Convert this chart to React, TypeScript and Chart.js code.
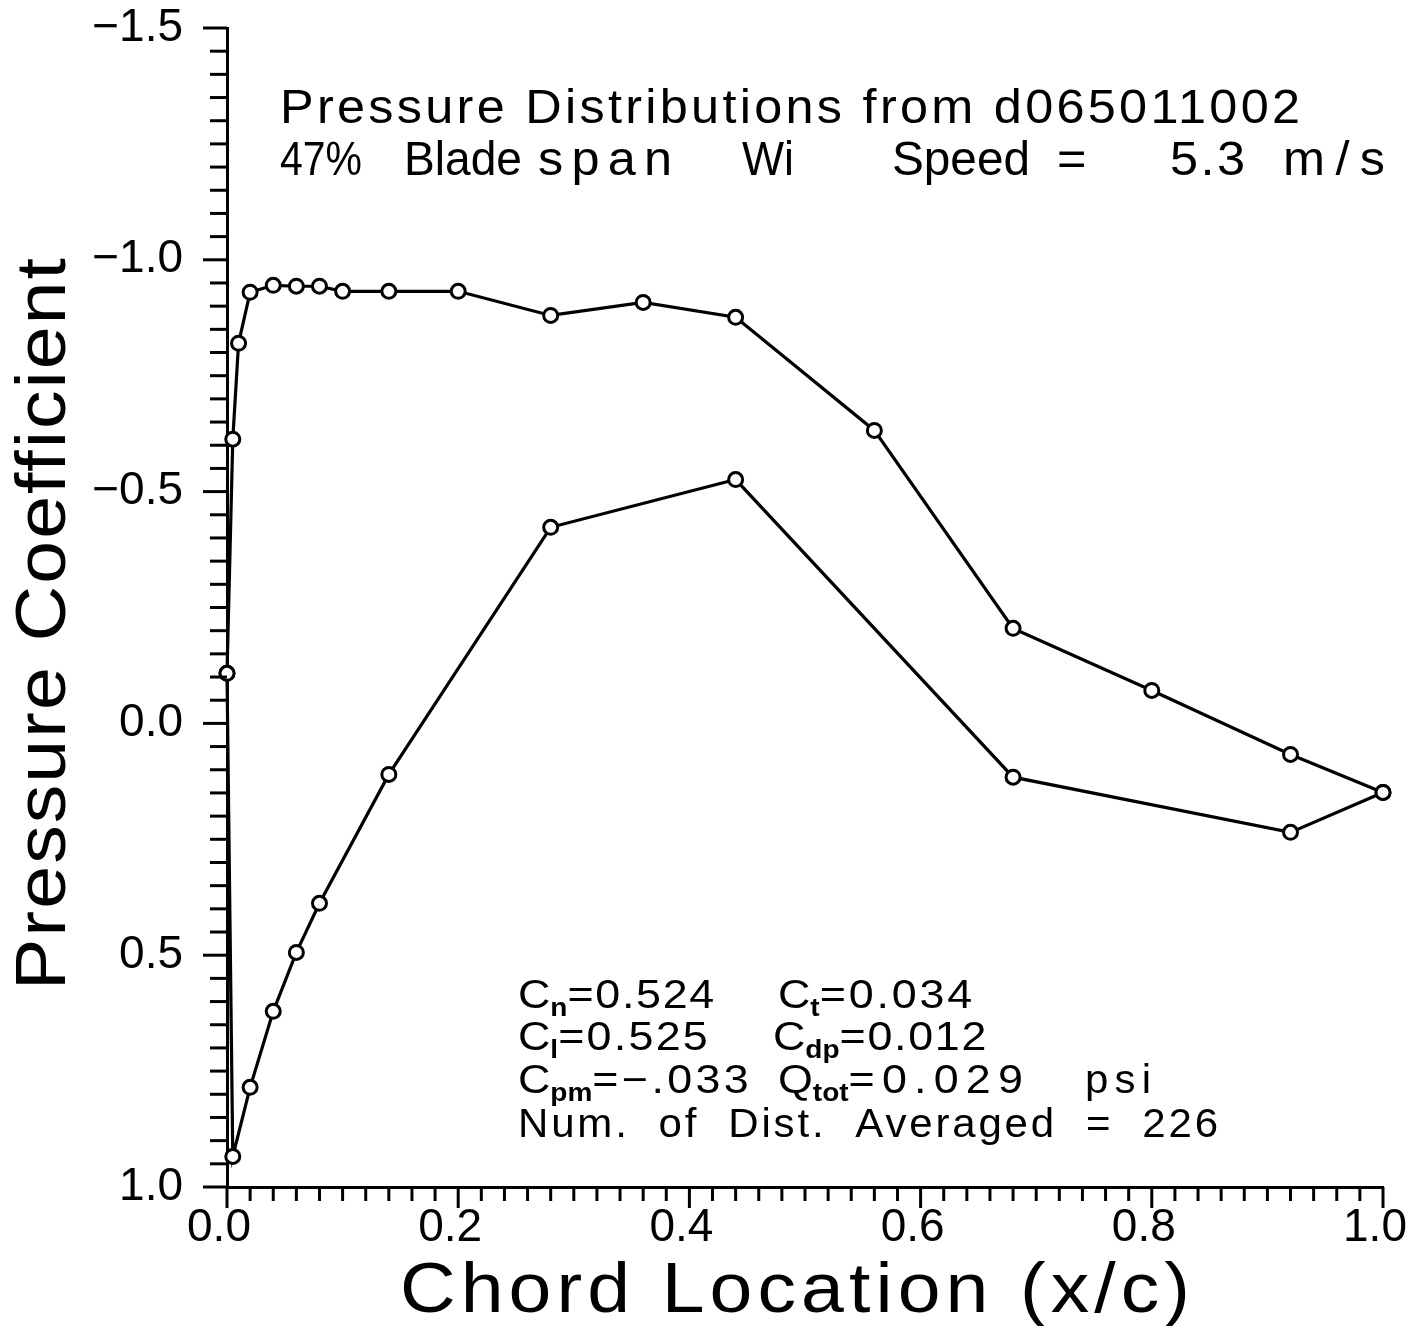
import React, { useEffect, useRef } from 'react';
import { Chart, registerables } from 'chart.js';

Chart.register(...registerables);

// ---- data ----
const upperX = [0, 0.005, 0.01, 0.02, 0.04, 0.06, 0.08, 0.1, 0.14, 0.2, 0.28, 0.36, 0.44, 0.56, 0.68, 0.8, 0.92, 1.0];
const upperCp = [-0.108, -0.613, -0.82, -0.93, -0.945, -0.943, -0.943, -0.932, -0.932, -0.932, -0.88, -0.908, -0.876, -0.632, -0.205, -0.071, 0.067, 0.149];
const lowerX = [0, 0.005, 0.02, 0.04, 0.06, 0.08, 0.14, 0.28, 0.44, 0.68, 0.92, 1.0];
const lowerCp = [-0.108, 0.934, 0.785, 0.621, 0.494, 0.388, 0.11, -0.423, -0.526, 0.116, 0.235, 0.149];

const xTickValues = [0, 0.2, 0.4, 0.6, 0.8, 1.0];
const yTickValues = [-1.5, -1.0, -0.5, 0.0, 0.5, 1.0];
const X_MIN = 0, X_MAX = 1.0, X_MINOR = 0.02;
const Y_MIN = -1.5, Y_MAX = 1.0, Y_MINOR = 0.05;

const titleLine1 = 'Pressure Distributions from d065011002';
const titleLine2Words = ['47%', 'Blade', 'span', 'Wi', 'Speed', '=', '5.3', 'm/s'];
const xTitle = 'Chord Location (x/c)';
const yTitle = 'Pressure Coefficient';
const statLines = [
  [[{ t: 'C' }, { t: 'n', sub: true }, { t: '=0.524' }], [{ t: 'C' }, { t: 't', sub: true }, { t: '=0.034' }]],
  [[{ t: 'C' }, { t: 'l', sub: true }, { t: '=0.525' }], [{ t: 'C' }, { t: 'dp', sub: true }, { t: '=0.012' }]],
  [[{ t: 'C' }, { t: 'pm', sub: true }, { t: '=\u2212.033' }], [{ t: 'Q' }, { t: 'tot', sub: true }, { t: '=0.029' }]],
];
const statPsi = 'psi';
const statLast = 'Num.  of  Dist.  Averaged  =  226';

const FONT = '"Liberation Sans", Arial, Helvetica, sans-serif';

const fmt = (v: number) => (v < 0 ? '\u2212' + Math.abs(v).toFixed(1) : v.toFixed(1));

// draws text so that it spans `width` px: stretch glyphs up to maxStretch, then add letter spacing
function fitText(ctx: CanvasRenderingContext2D, text: string, x: number, y: number, size: number, width: number, maxStretch = 1.05) {
  ctx.font = `normal ${size}px ${FONT}`;
  (ctx as any).letterSpacing = '0px';
  const nat = ctx.measureText(text).width;
  const n = [...text].length;
  let sx = width / nat;
  let ls = 0;
  if (sx > maxStretch) {
    sx = maxStretch;
    ls = n > 1 ? (width / sx - nat) / (n - 1) : 0;
  }
  ctx.save();
  ctx.translate(x, y);
  ctx.scale(sx, 1);
  (ctx as any).letterSpacing = ls + 'px';
  ctx.fillText(text, 0, 0);
  ctx.restore();
  (ctx as any).letterSpacing = '0px';
}

type Seg = { t: string; sub?: boolean };
function richText(ctx: CanvasRenderingContext2D, segs: Seg[], x: number, y: number, size: number, width: number, maxStretch = 1.12) {
  const subSize = Math.round(size * 0.62);
  const setFont = (s: Seg) => {
    ctx.font = s.sub ? `bold ${subSize}px ${FONT}` : `normal ${size}px ${FONT}`;
  };
  (ctx as any).letterSpacing = '0px';
  let nat = 0, n = 0;
  const widths: number[] = [];
  for (const s of segs) {
    setFont(s);
    const w = ctx.measureText(s.t).width;
    widths.push(w);
    nat += w;
    n += s.sub ? 0 : [...s.t].length;
  }
  let sx = width / nat;
  let ls = 0;
  if (sx > maxStretch) {
    sx = maxStretch;
    ls = n > 1 ? (width / sx - nat) / (n - 1) : 0;
  }
  ctx.save();
  ctx.translate(x, y);
  ctx.scale(sx, 1);
  let cx = 0;
  segs.forEach((s, i) => {
    setFont(s);
    const spacing = s.sub ? 0 : ls;
    (ctx as any).letterSpacing = spacing + 'px';
    ctx.fillText(s.t, cx, s.sub ? size * 0.2 : 0);
    let adv = widths[i] + [...s.t].length * spacing;
    if (!s.sub && i + 1 < segs.length && segs[i + 1].sub) adv -= spacing;
    cx += adv;
  });
  ctx.restore();
  (ctx as any).letterSpacing = '0px';
}

const decorPlugin = {
  id: 'decor',
  afterDraw(chart: any) {
    const { ctx, chartArea, scales } = chart;
    const xs = scales.x, ys = scales.y;
    ctx.save();
    // tick marks
    ctx.strokeStyle = '#000';
    ctx.lineWidth = 3;
    const nX = Math.round((X_MAX - X_MIN) / X_MINOR);
    for (let i = 0; i <= nX; i++) {
      const px = xs.getPixelForValue(X_MIN + i * X_MINOR);
      const major = i % 10 === 0;
      ctx.beginPath();
      ctx.moveTo(px, chartArea.bottom);
      ctx.lineTo(px, chartArea.bottom + (major ? 21 : 14));
      ctx.stroke();
    }
    const nY = Math.round((Y_MAX - Y_MIN) / Y_MINOR);
    for (let i = 0; i <= nY; i++) {
      const py = ys.getPixelForValue(Y_MIN + i * Y_MINOR);
      const major = i % 10 === 0;
      ctx.beginPath();
      ctx.moveTo(chartArea.left, py);
      ctx.lineTo(chartArea.left - (major ? 24 : 17), py);
      ctx.stroke();
    }
    // texts
    ctx.fillStyle = '#000';
    ctx.textAlign = 'left';
    ctx.textBaseline = 'alphabetic';
    fitText(ctx, titleLine1, 280, 123, 48, 1020);
    const w2 = [[280, 82], [404, 118], [538, 134], [742, 52], [892, 138], [1057, 38], [1170, 75], [1283, 102]];
    titleLine2Words.forEach((w, i) => fitText(ctx, w, w2[i][0], 175, 48, w2[i][1]));

    const rowY = [1008, 1050, 1093];
    const colA = [198, 192, 234];
    const colBx = [778, 773, 778];
    const colBw = [197, 215, 252];
    statLines.forEach((row, r) => {
      richText(ctx, row[0], 518, rowY[r], 40, colA[r]);
      richText(ctx, row[1], colBx[r], rowY[r], 40, colBw[r]);
    });
    fitText(ctx, statPsi, 1085, 1093, 40, 66);
    fitText(ctx, statLast, 518, 1137, 40, 700);

    // axis titles
    fitText(ctx, xTitle, 400, 1312, 70, 790, 1.1);
    ctx.save();
    ctx.translate(65, 990);
    ctx.rotate(-Math.PI / 2);
    fitText(ctx, yTitle, 0, 0, 70, 732, 1.1);
    ctx.restore();
    ctx.restore();
  },
};

const zeroPad = (s: any) => {
  s.paddingLeft = 0;
  s.paddingRight = 0;
  s.paddingTop = 0;
  s.paddingBottom = 0;
};

export default function App() {
  const ref = useRef<HTMLCanvasElement | null>(null);
  useEffect(() => {
    if (!ref.current) return;
    const mk = (xs: number[], ys: number[]) => xs.map((x, i) => ({ x, y: ys[i] }));
    const ds = (data: any[]) => ({
      data,
      borderColor: '#000',
      borderWidth: 3.2,
      pointRadius: 7,
      pointBorderWidth: 3,
      pointBackgroundColor: '#fff',
      pointBorderColor: '#000',
      tension: 0,
      fill: false,
      clip: false as any,
    });
    const chart = new Chart(ref.current, {
      type: 'line',
      data: {
        datasets: [ds(mk(upperX, upperCp)), ds(mk(lowerX, lowerCp))],
      },
      options: {
        animation: false,
        responsive: false,
        devicePixelRatio: 1,
        layout: { padding: { left: 0, right: 31, top: 28, bottom: 0 } },
        plugins: { legend: { display: false }, tooltip: { enabled: false }, title: { display: false } },
        scales: {
          x: {
            type: 'linear',
            min: X_MIN,
            max: X_MAX,
            position: 'bottom',
            afterFit: (s: any) => { s.height = 139; zeroPad(s); },
            afterBuildTicks: (s: any) => { s.ticks = xTickValues.map((v) => ({ value: v })); },
            grid: { display: false, drawTicks: false },
            border: { display: true, color: '#000', width: 3 },
            ticks: {
              color: '#000',
              font: { family: FONT, size: 46, lineHeight: 1 },
              padding: 18,
              labelOffset: -8,
              maxRotation: 0,
              autoSkip: false,
              callback: (v: any) => fmt(Number(v)),
            },
          },
          y: {
            type: 'linear',
            min: Y_MIN,
            max: Y_MAX,
            reverse: true,
            afterFit: (s: any) => { s.width = 227; zeroPad(s); },
            afterBuildTicks: (s: any) => { s.ticks = yTickValues.map((v) => ({ value: v })); },
            grid: { display: false, drawTicks: false },
            border: { display: true, color: '#000', width: 3 },
            ticks: {
              color: '#000',
              font: { family: FONT, size: 46, lineHeight: 1 },
              padding: 44,
              autoSkip: false,
              callback: (v: any) => fmt(Number(v)),
            },
          },
        },
      },
      plugins: [decorPlugin],
    });
    return () => chart.destroy();
  }, []);
  return (
    <div style={{ position: 'absolute', left: 0, top: 0, width: 1414, height: 1326, background: '#fff' }}>
      <canvas ref={ref} width={1414} height={1326} style={{ display: 'block', width: 1414, height: 1326 }} />
    </div>
  );
}
